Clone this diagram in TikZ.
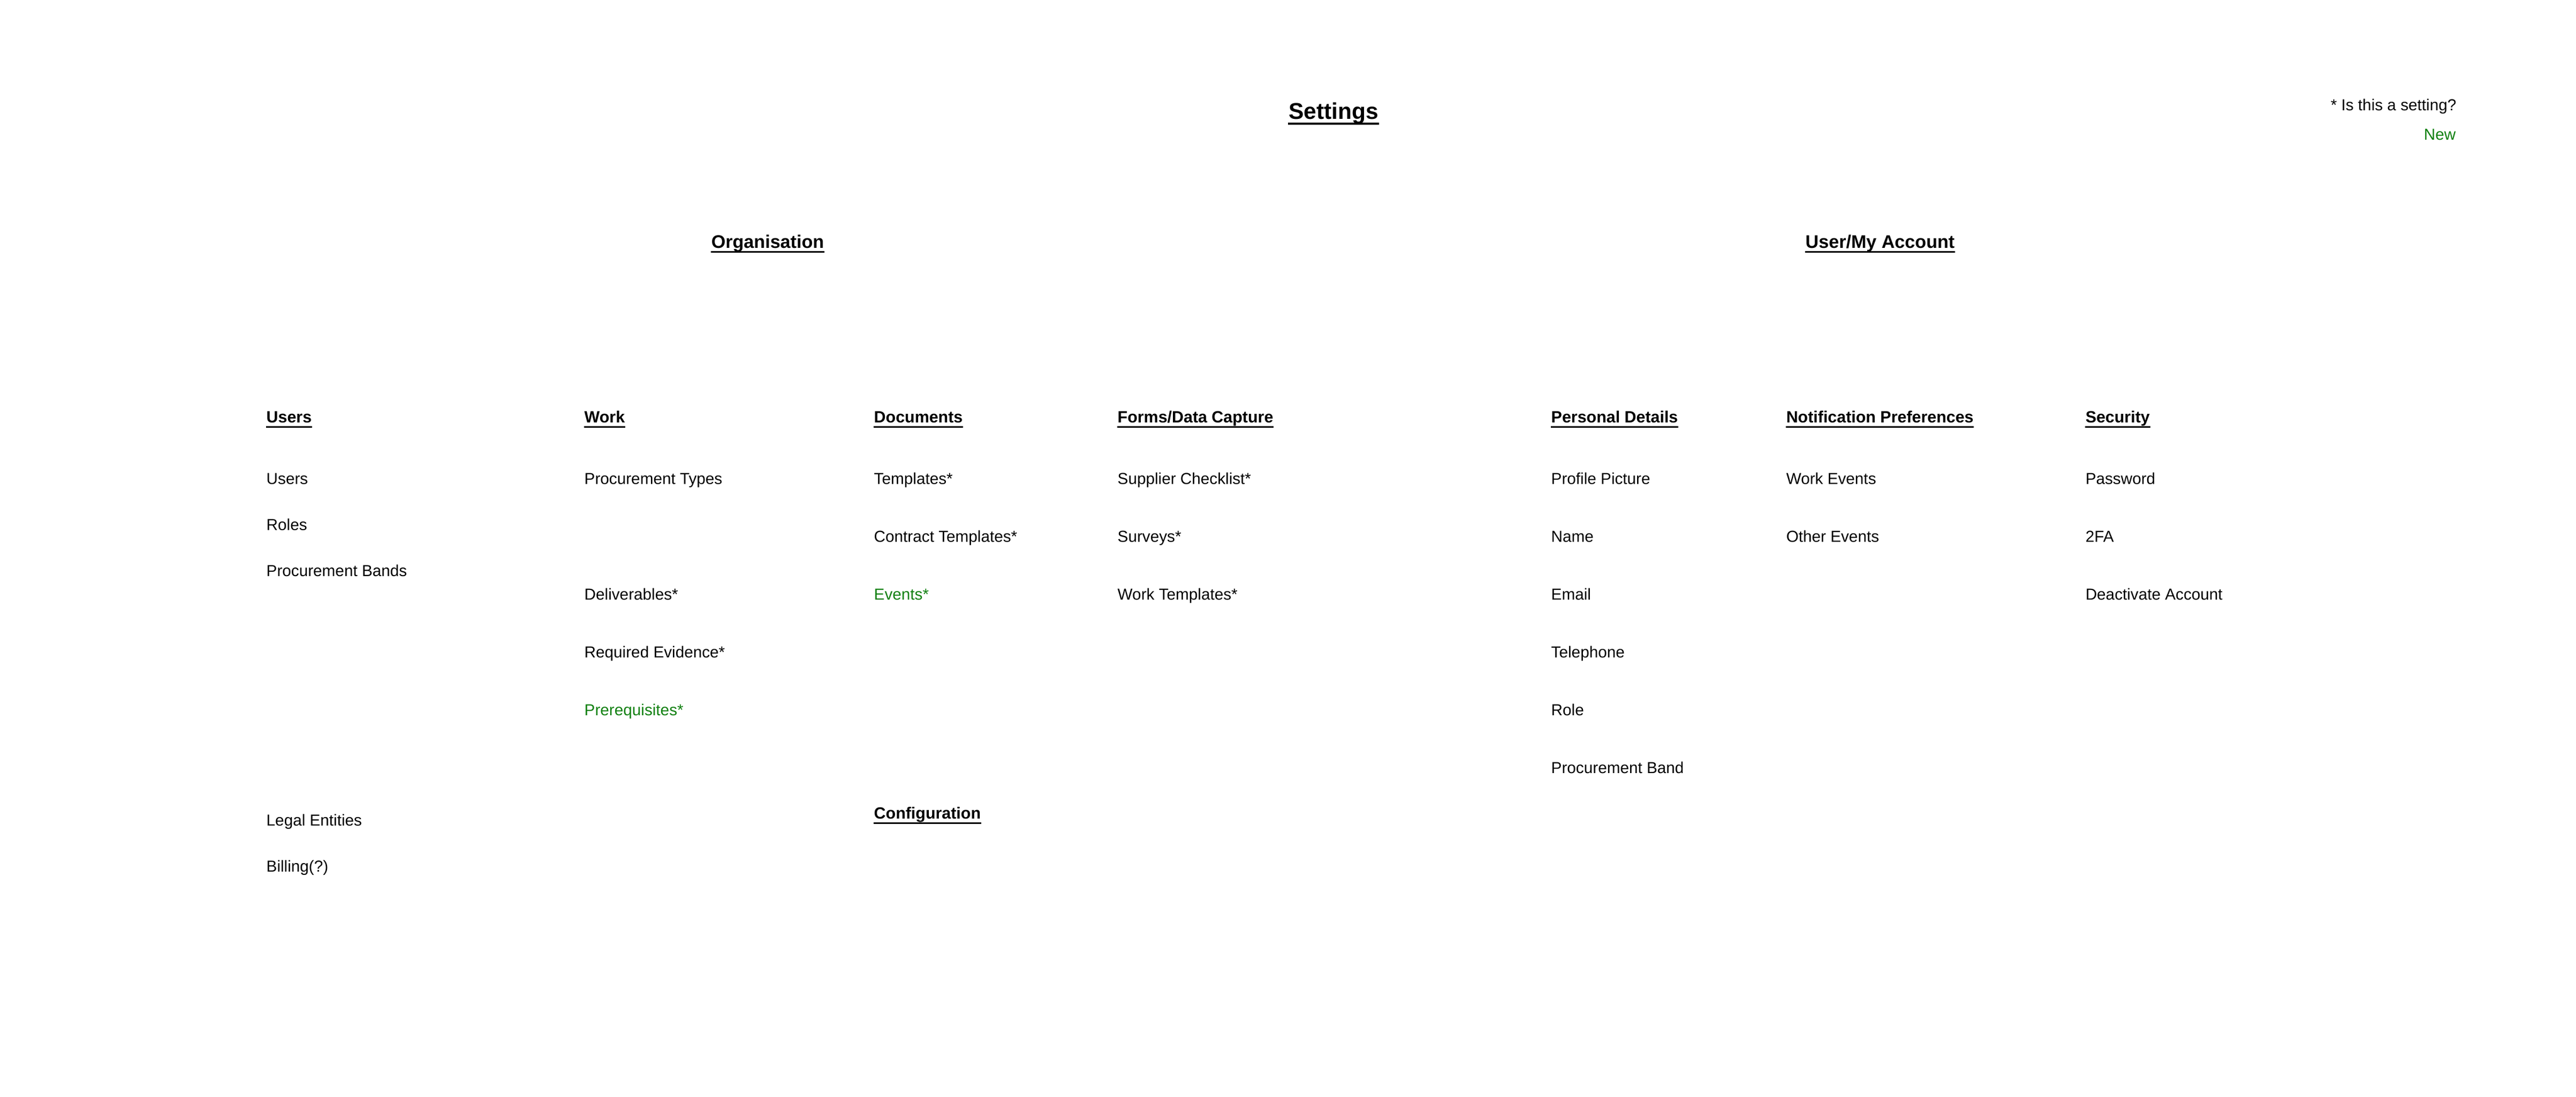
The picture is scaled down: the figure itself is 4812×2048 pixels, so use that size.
\documentclass[tikz,border=0pt]{standalone}
\usepackage{fontspec}
\setmainfont{Liberation Sans}
\usetikzlibrary{positioning}
\definecolor{newgreen}{RGB}{16,128,16}
\tikzset{
  it/.style ={anchor=base west, inner sep=0pt, font=\fontsize{8.45}{10}\selectfont},
  nw/.style ={it, text=newgreen},
  hd/.style ={it, font=\fontsize{8.65}{10}\selectfont\bfseries},
  sec/.style={anchor=base, inner sep=0pt, font=\fontsize{9.7}{12}\selectfont\bfseries},
  ttl/.style={anchor=base, inner sep=0pt, font=\fontsize{12.1}{14}\selectfont\bfseries},
  ul/.style ={line width=0.85pt}
}
\begin{document}
\begin{tikzpicture}[x=0.01cm, y=-0.01cm]
\useasboundingbox (0,0) rectangle (4812,2048);
\node[ttl] (settings) at (2491,222) {Settings};
\node[it, anchor=base east] (note) at (4589,206) {* Is this a setting?};
\node[nw, anchor=base east] (new) at (4588,261) {New};
\node[sec] (org) at (1434,463) {Organisation};
\node[sec] (acct) at (3512,463) {User/My Account};
% organisation
\node[hd] (users) at (497,789) {Users};
\node[it] (u1) at (497,904) {Users};
\node[it] (u2) at (497,990) {Roles};
\node[it] (u3) at (497,1076) {Procurement Bands};
\node[it] (u4) at (497,1542) {Legal Entities};
\node[it] (u5) at (497,1628) {Billing(?)};
\node[hd] (work) at (1091,789) {Work};
\node[it] (w1) at (1091,904) {Procurement Types};
\node[it] (w2) at (1091,1120) {Deliverables*};
\node[it] (w3) at (1091,1228) {Required Evidence*};
\node[nw] (w4) at (1091,1336) {Prerequisites*};
\node[hd] (docs) at (1632,789) {Documents};
\node[it] (d1) at (1632,904) {Templates*};
\node[it] (d2) at (1632,1012) {Contract Templates*};
\node[nw] (d3) at (1632,1120) {Events*};
\node[hd] (conf) at (1632,1529) {Configuration};
\node[hd] (forms) at (2087,789) {Forms/Data Capture};
\node[it] (f1) at (2087,904) {Supplier Checklist*};
\node[it] (f2) at (2087,1012) {Surveys*};
\node[it] (f3) at (2087,1120) {Work Templates*};
% user/my account
\node[hd] (pers) at (2897,789) {Personal Details};
\node[it] (p1) at (2897,904) {Profile Picture};
\node[it] (p2) at (2897,1012) {Name};
\node[it] (p3) at (2897,1120) {Email};
\node[it] (p4) at (2897,1228) {Telephone};
\node[it] (p5) at (2897,1336) {Role};
\node[it] (p6) at (2897,1444) {Procurement Band};
\node[hd] (notif) at (3336,789) {Notification Preferences};
\node[it] (n1) at (3336,904) {Work Events};
\node[it] (n2) at (3336,1012) {Other Events};
\node[hd] (sec) at (3895,789) {Security};
\node[it] (s1) at (3895,904) {Password};
\node[it] (s2) at (3895,1012) {2FA};
\node[it] (s3) at (3895,1120) {Deactivate Account};
% underlines
\draw[ul, line width=1.1pt] ([yshift=-0.09cm]settings.base west) -- ([yshift=-0.09cm]settings.base east);
\foreach \n in {org,acct}
  \draw[ul] ([yshift=-0.07cm]\n.base west) -- ([yshift=-0.07cm]\n.base east);
\foreach \n in {users,work,docs,conf,forms,pers,notif,sec}
  \draw[ul] ([yshift=-0.08cm]\n.base west) -- ([yshift=-0.08cm]\n.base east);
\end{tikzpicture}
\end{document}
